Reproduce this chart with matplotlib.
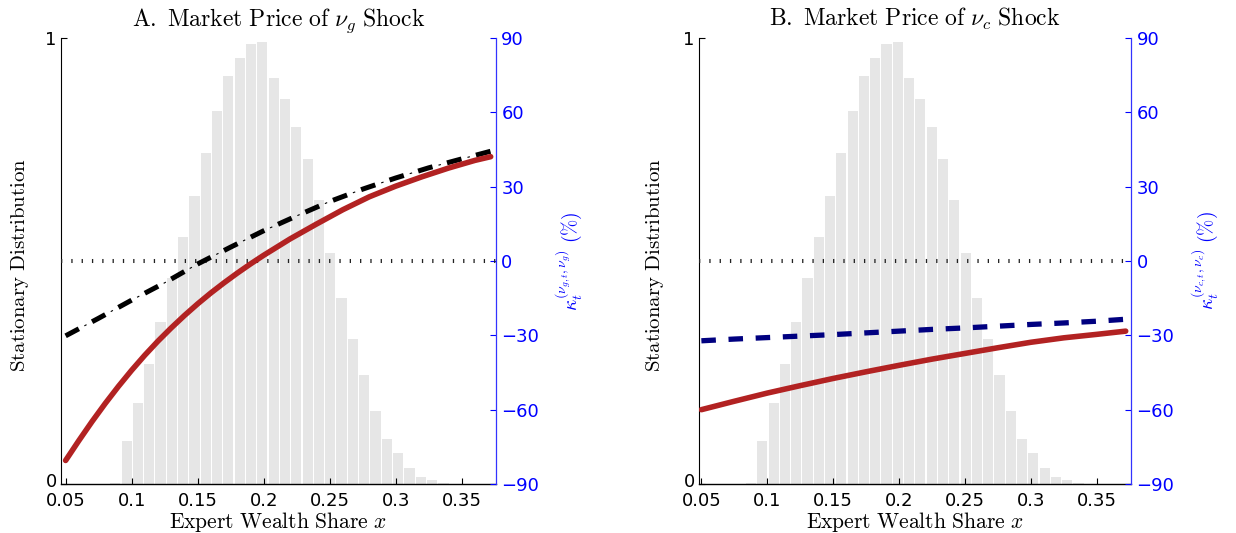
import matplotlib.pyplot as plt
import matplotlib.transforms as mtransforms
import numpy as np

plt.rcParams['mathtext.fontset'] = 'cm'
plt.rcParams['font.family'] = 'DejaVu Sans'

# Stationary distribution of the expert wealth share (scaled so the peak is ~1)
bin_centers = [0.0876, 0.0962, 0.1048, 0.1133, 0.1219, 0.1305, 0.1391, 0.1476,
               0.1562, 0.1648, 0.1733, 0.1819, 0.1905, 0.1990, 0.2076, 0.2162,
               0.2248, 0.2333, 0.2419, 0.2505, 0.2590, 0.2676, 0.2762, 0.2847,
               0.2933, 0.3019, 0.3105, 0.3190, 0.3276, 0.3362]
density = [0.003, 0.096, 0.182, 0.270, 0.363, 0.462, 0.554, 0.646,
           0.742, 0.836, 0.915, 0.955, 0.987, 0.991, 0.910, 0.863,
           0.800, 0.729, 0.637, 0.518, 0.417, 0.325, 0.244, 0.164,
           0.101, 0.070, 0.036, 0.016, 0.009, 0.003]

# Panel A: market price of the nu_g shock (%)
x_a_red = [0.05, 0.06, 0.07, 0.08, 0.09, 0.10, 0.11, 0.12, 0.13, 0.14, 0.15,
           0.16, 0.17, 0.18, 0.19, 0.20, 0.22, 0.24, 0.26, 0.28, 0.30, 0.32,
           0.34, 0.36, 0.372]
kappa_a_red = [-80.5, -72.5, -64.8, -57.5, -50.6, -44.1, -38.0, -32.3, -27.0,
               -22.0, -17.3, -12.9, -8.8, -4.9, -1.2, 2.3, 8.9, 14.9, 20.7,
               25.9, 30.2, 34.0, 37.5, 40.6, 42.1]
x_a_black = [0.05, 0.075, 0.1, 0.125, 0.15, 0.175, 0.2, 0.225, 0.25, 0.275,
             0.3, 0.325, 0.35, 0.372]
kappa_a_black = [-30.2, -23.1, -15.8, -8.8, -1.2, 5.6, 12.2, 18.2, 24.0, 29.0,
                 33.5, 37.6, 41.2, 44.3]

# Panel B: market price of the nu_c shock (%)
x_b = [0.05, 0.075, 0.1, 0.125, 0.15, 0.175, 0.2, 0.225, 0.25, 0.275, 0.3,
       0.325, 0.35, 0.372]
kappa_b_red = [-60.0, -56.6, -53.3, -50.3, -47.4, -44.7, -42.1, -39.6, -37.3,
               -35.0, -32.8, -31.0, -29.6, -28.3]
kappa_b_blue = [-32.2, -31.5, -30.9, -30.3, -29.7, -29.0, -28.3, -27.6, -27.0,
                -26.3, -25.6, -25.0, -24.3, -23.5]

x_ticks = [0.05, 0.1, 0.15, 0.2, 0.25, 0.3, 0.35]
x_tick_labels = ['0.05', '0.1', '0.15', '0.2', '0.25', '0.3', '0.35']
kappa_ticks = [-90, -60, -30, 0, 30, 60, 90]

RED = '#b22222'
NAVY = '#000080'

fig = plt.figure(figsize=(12.36, 5.33), dpi=100)


def make_panel(rect, xlim, title, kappa_label, ylab_x, klab_x):
    ax = fig.add_axes(rect)
    ax.bar(bin_centers, density, width=0.0077, color='#e6e6e6', linewidth=0)
    ax.set_xlim(xlim)
    ax.set_ylim(0, 1)
    ax.set_xticks(x_ticks)
    ax.set_xticklabels(x_tick_labels)
    ax.set_yticks([0, 1])
    ax.set_yticklabels(['0', '1'])
    ax.tick_params(direction='in', length=4, width=0.8, labelsize=13)
    ax.tick_params(axis='x', pad=6)
    ax.tick_params(axis='y', pad=3)
    # nudge the lower "0" up so it clears the x tick labels
    lab0 = ax.get_yticklabels()[0]
    lab0.set_transform(lab0.get_transform() + mtransforms.ScaledTranslation(
        0, 3 / 72, fig.dpi_scale_trans))
    for s in ['top', 'right']:
        ax.spines[s].set_visible(False)
    ax.spines['left'].set_linewidth(0.8)
    ax.spines['bottom'].set_linewidth(1.0)

    ax.set_title(title, fontsize=17, pad=9)
    ax.set_xlabel(r'$\mathrm{Expert\ Wealth\ Share\ }x$', fontsize=15.5)
    ax.xaxis.set_label_coords(0.5, -0.058)
    ax.set_ylabel(r'$\mathrm{Stationary\ Distribution}$', fontsize=15)
    ax.yaxis.set_label_coords(ylab_x, 0.49)
    ax.yaxis.label.set_va('center')

    ax2 = ax.twinx()
    ax2.set_ylim(-90, 90)
    ax2.set_yticks(kappa_ticks)
    for s in ['top', 'left', 'bottom']:
        ax2.spines[s].set_visible(False)
    ax2.spines['right'].set_color('#3333ff')
    ax2.spines['right'].set_linewidth(0.9)
    ax2.tick_params(axis='y', direction='in', length=4, width=0.8,
                    colors='blue', labelsize=13, pad=4)
    ax2.set_ylabel(kappa_label, color='blue', fontsize=14)
    ax2.yaxis.set_label_coords(klab_x, 0.5)
    ax2.yaxis.label.set_va('center')

    # zero reference line
    ax2.axhline(0, color='#222222', lw=2.9, linestyle=(0, (0.32, 2.24)))
    return ax, ax2


ax_a, ax2_a = make_panel([0.04935, 0.0919, 0.3517, 0.8368], (0.0465, 0.3758),
                         r'$\mathrm{A.\ Market\ Price\ of\ }\nu_g\mathrm{\ Shock}$',
                         r'$\kappa_t^{(\nu_{g,t},\nu_g)}\ (\%)$', -0.094, 1.168)
ax2_a.plot(x_a_black, kappa_a_black, color='black', lw=3.6,
           linestyle=(0, (3.0, 3.0)))
ax2_a.plot(x_a_black, kappa_a_black, color='black', lw=0.8,
           linestyle=(7.9, (2.25, 24.75)))
ax2_a.plot(x_a_red, kappa_a_red, color=RED, lw=4.0, solid_capstyle='round')

ax_b, ax2_b = make_panel([0.56553, 0.0919, 0.3495, 0.8368], (0.0482, 0.376),
                         r'$\mathrm{B.\ Market\ Price\ of\ }\nu_c\mathrm{\ Shock}$',
                         r'$\kappa_t^{(\nu_{c,t},\nu_c)}\ (\%)$', -0.102, 1.171)
ax2_b.plot(x_b, kappa_b_blue, color=NAVY, lw=3.8, linestyle=(0, (2.75, 2.4)))
ax2_b.plot(x_b, kappa_b_red, color=RED, lw=4.0, solid_capstyle='round')

fig.savefig('out.png', dpi=100)
